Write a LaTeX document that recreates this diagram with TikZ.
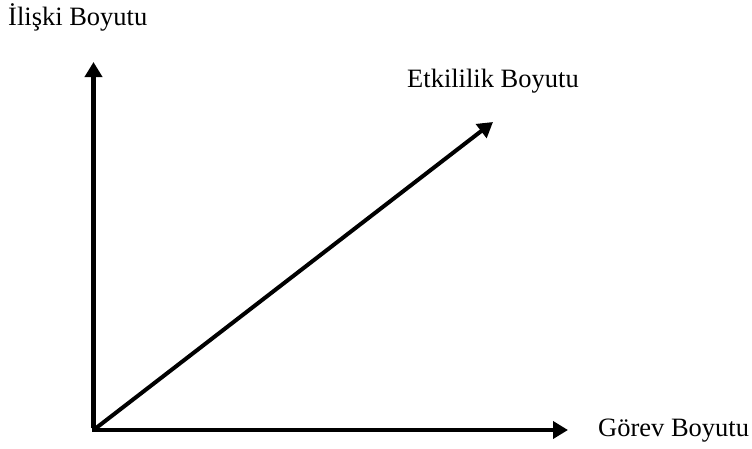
\documentclass[tikz,border=0pt]{standalone}
\usepackage{fontspec}
\setmainfont{Liberation Serif}
\usetikzlibrary{arrows.meta}
\begin{document}
\begin{tikzpicture}[x=1pt,y=-1pt,
  axis/.style={line width=4.2pt,-{Triangle[width=17pt,length=15pt]}},
  lbl/.style={font=\fontsize{26.5}{30}\selectfont,inner sep=0pt,anchor=base west}]
\useasboundingbox (0,0) rectangle (752,448);
\coordinate (O) at (93.5,430);
\coordinate (Y) at (93.5,62);
\coordinate (X) at (568,430);
\coordinate (D) at (493,122);
\draw[axis] ([yshift=2pt]O) -- (Y);
\draw[axis] ([xshift=-2pt]O) -- (X);
\draw[axis,line width=4pt] (O) -- (D);
\node[lbl] (ly) at (8,25) {İlişki Boyutu};
\node[lbl] (ld) at (407,87) {Etkililik Boyutu};
\node[lbl] (lx) at (598,436) {Görev Boyutu};
\end{tikzpicture}
\end{document}
